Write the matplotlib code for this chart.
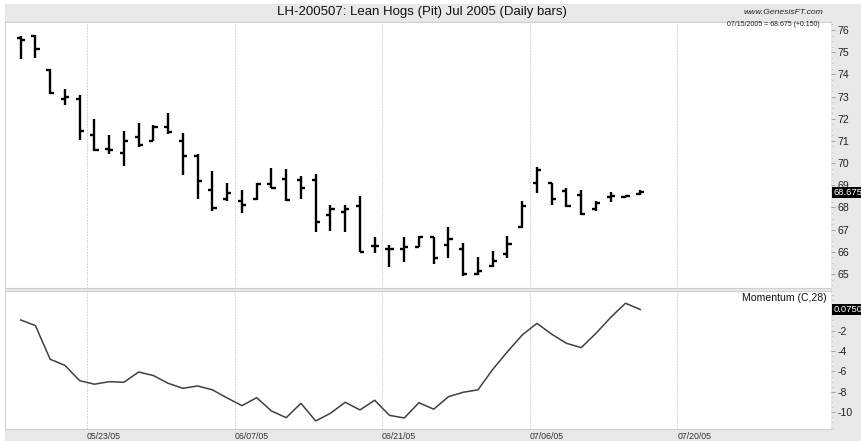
import matplotlib
matplotlib.use("Agg")
import matplotlib.pyplot as plt
import matplotlib.patches as patches
import matplotlib.transforms as mtransforms
import pandas as pd
import numpy as np

# daily OHLC for LH-200507, 05/16/05 .. 07/15/05
opens = [75.66, 75.74, 74.20, 72.90, 72.90, 71.28, 70.65, 70.45, 71.16, 71.00,
         71.61, 71.00, 70.32, 68.78, 68.36, 68.30, 68.36, 69.08, 69.27, 69.23,
         69.23, 67.66, 67.80, 68.06, 66.25, 66.15, 66.11, 66.23, 66.65, 66.30,
         66.15, 64.98, 65.35, 65.90, 67.13, 69.09, 69.09, 68.75, 68.56, 67.91,
         68.48, 68.45, 68.60]
highs = [75.71, 75.77, 74.24, 73.33, 73.08, 72.00, 71.28, 71.43, 71.80, 71.73,
         72.26, 71.36, 70.41, 69.65, 69.11, 68.78, 69.11, 69.76, 69.72, 69.41,
         69.50, 68.10, 68.10, 68.51, 66.68, 66.33, 66.65, 66.70, 66.68, 67.10,
         66.38, 65.77, 66.04, 66.71, 68.30, 69.81, 69.11, 68.86, 68.78, 68.29,
         68.71, 68.53, 68.78]
lows = [74.71, 74.72, 73.11, 72.63, 71.05, 70.56, 70.41, 69.85, 70.72, 70.98,
        71.31, 69.46, 68.38, 67.85, 68.30, 67.73, 68.33, 68.86, 68.30, 68.39,
        66.90, 66.93, 66.90, 66.00, 65.93, 65.32, 65.55, 66.20, 65.45, 65.73,
        64.90, 64.97, 65.30, 65.73, 67.06, 68.63, 68.11, 68.03, 67.66, 67.85,
        68.23, 68.41, 68.55]
closes = [75.55, 75.13, 73.15, 73.00, 71.43, 70.60, 70.60, 70.98, 70.83, 71.61,
          71.40, 70.32, 69.20, 67.96, 68.66, 68.12, 69.08, 68.86, 68.33, 68.86,
          67.35, 67.91, 67.92, 66.00, 66.28, 66.15, 66.20, 66.68, 65.70, 66.60,
          64.98, 65.14, 65.60, 66.35, 68.06, 69.69, 68.36, 68.06, 67.69, 68.18,
          68.50, 68.50, 68.675]

# Momentum (C,28)
momentum = [-0.95, -1.50, -4.80, -5.40, -6.90, -7.25, -7.00, -7.06, -6.05, -6.40,
            -7.16, -7.65, -7.42, -7.80, -8.60, -9.35, -8.57, -9.87, -10.53, -9.12,
            -10.85, -10.10, -9.02, -9.77, -8.82, -10.30, -10.56, -9.06, -9.70, -8.47,
            -8.04, -7.80, -5.80, -4.06, -2.42, -1.28, -2.35, -3.24, -3.66, -2.26,
            -0.69, 0.69, 0.075]

tick_dates = ["2005-05-23", "2005-06-07", "2005-06-21", "2005-07-06", "2005-07-20"]
holidays = ["2005-05-30", "2005-07-04"]
price_ticks = [65, 66, 67, 68, 69, 70, 71, 72, 73, 74, 75, 76]
mom_ticks = [-10, -8, -6, -4, -2]

# trading calendar (business days minus exchange holidays)
days = pd.bdate_range("2005-05-16", "2005-07-29")
days = days[~days.isin(pd.to_datetime(holidays))]
x = np.arange(len(closes))
# grid lines sit half a bar to the left of the dated bar
tick_pos = [days.get_loc(pd.Timestamp(d)) - 0.5 for d in tick_dates]
tick_lab = [pd.Timestamp(d).strftime("%m/%d/%y") for d in tick_dates]

W, H = 862, 441
fig = plt.figure(figsize=(W / 100, H / 100), dpi=100)
fig.patch.set_facecolor("white")
plt.rcParams["font.family"] = ["Liberation Sans", "DejaVu Sans"]

# grey frame behind the panels (title band, right scale, date strip)
fig.patches.append(patches.Rectangle((5 / W, 0), 1, 1 - 4 / H, transform=fig.transFigure,
                                     facecolor="#e8e8e8", edgecolor="none", zorder=-5))

left = 5 / W
width = (831 - 5) / W
ax = fig.add_axes([left, 1 - 288 / H, width, (288 - 22) / H])
ax2 = fig.add_axes([left, 1 - 429 / H, width, (429 - 291) / H], sharex=ax)

xlim = (-1.06, 54.93)

# price bars
tick_w = 0.28
ax.vlines(x, lows, highs, color="black", lw=1.7, zorder=3)
ax.hlines(opens, x - tick_w, x, color="black", lw=1.7, zorder=3)
ax.hlines(closes, x, x + tick_w, color="black", lw=1.7, zorder=3)

# momentum line
ax2.plot(x, momentum, color="#404040", lw=1.1, zorder=3)

for a in (ax, ax2):
    a.set_facecolor("white")
    a.set_xlim(*xlim)
    for tp in tick_pos:
        a.axvline(tp, color="#c8c8c8", lw=0.7, ls=(0, (1.5, 1.5)), zorder=1)
    for s in a.spines.values():
        s.set_color("#d0d0d0")
        s.set_linewidth(0.8)
    a.spines["right"].set_visible(False)
    a.yaxis.tick_right()
    a.tick_params(axis="y", which="major", length=3, width=0.6, color="#999999",
                  labelsize=7.6, labelcolor="#222222", pad=2)
    a.tick_params(axis="y", which="minor", length=1.5, width=0.5, color="#bbbbbb")

ax.set_ylim(64.37, 76.36)
ax.set_yticks(price_ticks)
ax.set_yticks(np.arange(64.5, 76.3, 0.25), minor=True)
ax.tick_params(axis="x", which="both", length=0, labelbottom=False)

ax2.set_ylim(-11.64, 1.89)
ax2.set_yticks(mom_ticks)
ax2.set_yticklabels([str(t) for t in mom_ticks])
ax2.set_yticks(np.arange(-11.5, 1.8, 0.5), minor=True)
ax2.set_xticks(tick_pos)
ax2.set_xticklabels(tick_lab, ha="left")
ax2.tick_params(axis="x", length=0, labelsize=6.3, labelcolor="#333333", pad=2)

# texts
fig.text(422 / W, 1 - 12.5 / H, "LH-200507: Lean Hogs (Pit) Jul 2005 (Daily bars)",
         ha="center", va="center", fontsize=9.5, color="#111111")
fig.text(823 / W, 1 - 12 / H, "www.GenesisFT.com", ha="right", va="center",
         fontsize=6.1, style="italic", color="#222222")
fig.text(820 / W, 1 - 25 / H, "07/15/2005 = 68.675 (+0.150)", ha="right", va="center",
         fontsize=5.0, color="#222222")
fig.text(827 / W, 1 - 298 / H, "Momentum (C,28)", ha="right", va="center",
         fontsize=7.6, color="#111111")

# last value boxes on the right scales
tr = mtransforms.blended_transform_factory(ax.transAxes, ax.transData)
ax.text(1.003, closes[-1], "%.3f" % closes[-1], transform=tr, ha="left", va="center",
        fontsize=6.8, color="white", clip_on=False, zorder=5,
        bbox=dict(boxstyle="square,pad=0.15", facecolor="black", edgecolor="none"))
tr2 = mtransforms.blended_transform_factory(ax2.transAxes, ax2.transData)
ax2.text(1.003, momentum[-1], "%.4f" % momentum[-1], transform=tr2, ha="left", va="center",
         fontsize=6.8, color="white", clip_on=False, zorder=5,
         bbox=dict(boxstyle="square,pad=0.15", facecolor="black", edgecolor="none"))

fig.savefig("out.png", dpi=100, facecolor=fig.get_facecolor())
